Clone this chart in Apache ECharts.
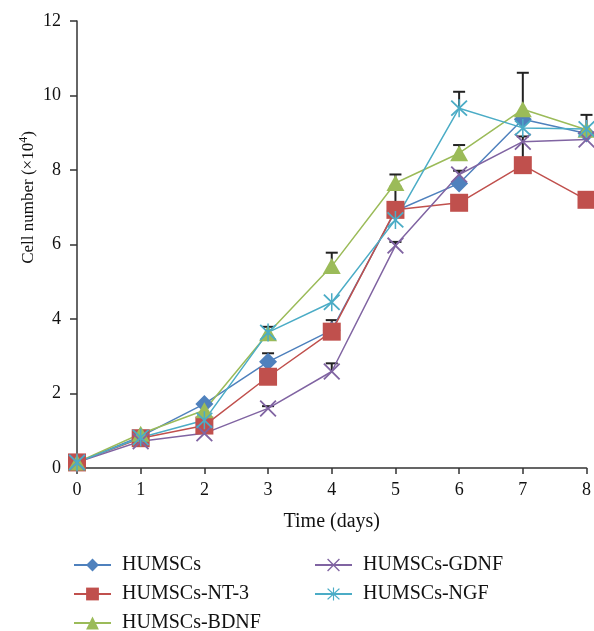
<!DOCTYPE html>
<html>
<head>
<meta charset="utf-8">
<script src="https://cdn.jsdelivr.net/npm/echarts@6/dist/echarts.min.js"></script>
<style>
  html, body { margin: 0; padding: 0; background: #fff; }
  #growth { width: 594px; height: 631px; }
</style>
</head>
<body>
<div id="growth"></div>
<script>
  // days of culture
  const days = [0, 1, 2, 3, 4, 5, 6, 7, 8];
  const yTicks = [0, 2, 4, 6, 8, 10, 12];

  // cell number (x10^4)
  const humscs = [0.15, 0.85, 1.72, 2.85, 3.70, 6.90, 7.64, 9.36, 8.98];
  const nt3    = [0.15, 0.80, 1.14, 2.45, 3.66, 6.93, 7.12, 8.13, 7.20];
  const bdnf   = [0.15, 0.92, 1.55, 3.62, 5.42, 7.65, 8.45, 9.63, 9.08];
  const gdnf   = [0.15, 0.72, 0.93, 1.60, 2.59, 5.97, 7.88, 8.76, 8.82];
  const ngf    = [0.15, 0.82, 1.28, 3.64, 4.45, 6.66, 9.66, 9.13, 9.10];

  // upper end of the error bars (null = no bar visible)
  const humscsErr = [null, null, null, 3.08, null, null, 7.98, null, null];
  const nt3Err    = [null, null, null, null, 3.97, 7.55, null, 8.90, null];
  const bdnfErr   = [null, null, null, 3.79, 5.78, 7.88, 8.67, 10.61, 9.48];
  const gdnfErr   = [null, null, null, 1.66, 2.81, 6.07, null, null, null];
  const ngfErr    = [null, null, null, null, null, null, 10.10, 9.32, null];

  const names = ['HUMSCs', 'HUMSCs-NT-3', 'HUMSCs-BDNF', 'HUMSCs-GDNF', 'HUMSCs-NGF'];
  const colors = ['#4f81bd', '#c0504d', '#9bbb59', '#8064a2', '#4bacc6'];

  const FONT = 'Liberation Serif';
  const crossPath = 'path://M0,1.5 L1.5,0 L10,8.5 L18.5,0 L20,1.5 L11.5,10 L20,18.5 L18.5,20 L10,11.5 L1.5,20 L0,18.5 L8.5,10 Z';
  const starPath = 'path://M0,1.5 L1.5,0 L10,8.5 L18.5,0 L20,1.5 L11.5,10 L20,18.5 L18.5,20 L10,11.5 L1.5,20 L0,18.5 L8.5,10 Z M9.1,-1 L10.9,-1 L10.9,21 L9.1,21 Z';

  const symbols = ['diamond', 'rect', 'triangle', crossPath, starPath];
  const sizes = [[18, 18], [18, 18], [18, 16], [17, 17], [17, 18]];
  const values = [humscs, nt3, bdnf, gdnf, ngf];
  const errs = [humscsErr, nt3Err, bdnfErr, gdnfErr, ngfErr];

  let errData = [];
  for (let s = 0; s < values.length; s++) {
    for (let i = 0; i < days.length; i++) {
      if (errs[s][i] != null) errData.push([days[i], values[s][i], errs[s][i]]);
    }
  }

  let series = [];
  series.push({
    type: 'custom',
    z: 1,
    silent: true,
    data: errData,
    renderItem: function (params, api) {
      let p1 = api.coord([api.value(0), api.value(1)]);
      let p2 = api.coord([api.value(0), api.value(2)]);
      let style = { stroke: '#222', lineWidth: 2 };
      return {
        type: 'group',
        children: [
          { type: 'line', shape: { x1: p1[0], y1: p1[1], x2: p2[0], y2: p2[1] }, style: style },
          { type: 'line', shape: { x1: p2[0] - 6, y1: p2[1], x2: p2[0] + 6, y2: p2[1] }, style: style }
        ]
      };
    }
  });
  for (let s = 0; s < names.length; s++) {
    series.push({
      name: names[s],
      type: 'line',
      z: 2,
      data: days.map((d, i) => [d, values[s][i]]),
      symbol: symbols[s],
      symbolSize: sizes[s],
      showAllSymbol: true,
      lineStyle: { color: colors[s], width: 1.5 },
      itemStyle: { color: colors[s], opacity: 1 }
    });
  }

  const legendBase = {
    orient: 'vertical',
    top: 555,
    height: 140,
    padding: 0,
    itemWidth: 37,
    itemHeight: 16,
    itemGap: 9,
    textStyle: { fontFamily: FONT, fontSize: 20, lineHeight: 16, color: '#111', padding: [0, 0, 0, 6] }
  };

  const option = {
    animation: false,
    color: colors,
    grid: { left: 77, right: 4, top: 21, bottom: 163 },
    legend: [
      Object.assign({}, legendBase, { left: 73, data: names.slice(0, 3) }),
      Object.assign({}, legendBase, { left: 314, data: names.slice(3) })
    ],
    xAxis: {
      type: 'value',
      min: days[0],
      max: days[days.length - 1],
      interval: 1,
      name: 'Time (days)',
      nameLocation: 'middle',
      nameGap: 44,
      nameTextStyle: { fontFamily: FONT, fontSize: 20, color: '#111' },
      axisLine: { lineStyle: { color: '#333', width: 1.5 } },
      axisTick: { length: 6, lineStyle: { color: '#333', width: 1.5 } },
      axisLabel: { margin: 13, fontFamily: FONT, fontSize: 18, color: '#111' },
      splitLine: { show: false }
    },
    yAxis: {
      type: 'value',
      min: yTicks[0],
      max: yTicks[yTicks.length - 1],
      interval: 2,
      name: 'Cell number (×10{sup|4})',
      nameLocation: 'middle',
      nameRotate: 90,
      nameGap: 38,
      nameMoveOverlap: false,
      nameTextStyle: {
        fontFamily: FONT, fontSize: 17, color: '#111',
        padding: [0, 0, 0, 94],
        rich: { sup: { fontFamily: FONT, fontSize: 12, color: '#111', padding: [0, 0, 9, 0] } }
      },
      axisLine: { show: true, lineStyle: { color: '#333', width: 1.5 } },
      axisTick: { show: true, length: 7, lineStyle: { color: '#333', width: 1.5 } },
      axisLabel: { margin: 16, fontFamily: FONT, fontSize: 18, color: '#111' },
      splitLine: { show: false }
    },
    series: series
  };

  let chart = echarts.init(document.getElementById('growth'));
  chart.setOption(option);
</script>
</body>
</html>
